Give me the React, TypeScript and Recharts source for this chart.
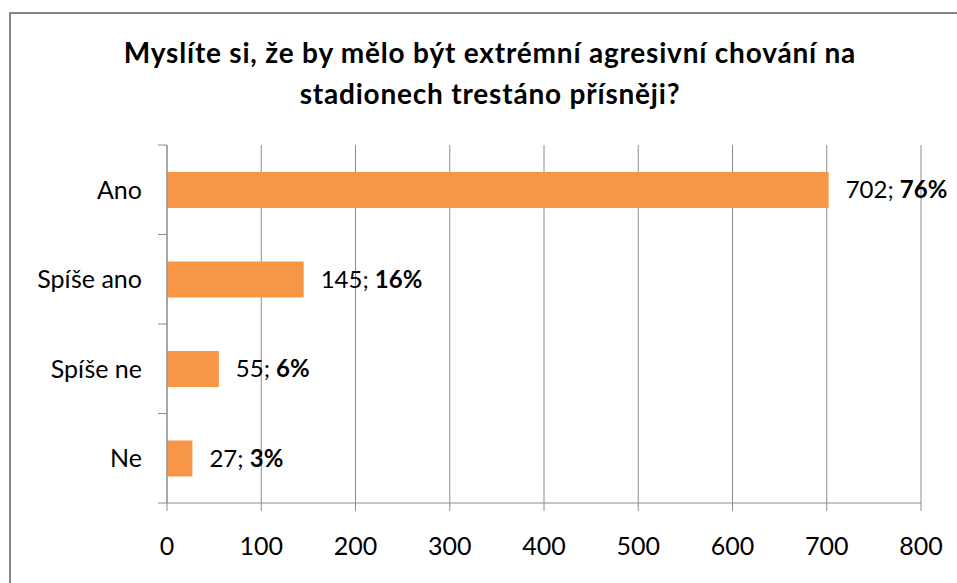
import React from 'react';
import { BarChart, Bar, XAxis, YAxis, CartesianGrid, LabelList } from 'recharts';

const categories = ['Ano', 'Spíše ano', 'Spíše ne', 'Ne'];
const counts = [702, 145, 55, 27];
const percents = [76, 16, 6, 3];
const xTicks = [0, 100, 200, 300, 400, 500, 600, 700, 800];
const titleLines = [
  'Myslíte si, že by mělo být extrémní agresivní chování na',
  'stadionech trestáno přísněji?',
];

const data = categories.map((c, i) => ({ name: c, value: counts[i], pct: percents[i] }));

const FONT = 'Lato, "Open Sans", sans-serif';
const AXIS_COLOR = '#8c8c8c';
const TEXT_COLOR = '#000000';

const YTick = (props: any) => {
  const { x, y, payload, index, visibleTicksCount } = props;
  const half = payload && typeof payload.offset === 'number' ? payload.offset : 44.75;
  const axisX = x + 16 + 9;
  return (
    <g>
      <line x1={axisX - 9} x2={axisX} y1={y - half} y2={y - half} stroke={AXIS_COLOR} strokeWidth={1} />
      {index === visibleTicksCount - 1 ? (
        <line x1={axisX - 9} x2={axisX} y1={y + half} y2={y + half} stroke={AXIS_COLOR} strokeWidth={1} />
      ) : null}
      <text x={x} y={y} dy="0.35em" textAnchor="end" fontFamily={FONT} fontSize={25} fill={TEXT_COLOR}>
        {payload.value}
      </text>
    </g>
  );
};

const ValueLabel = (props: any) => {
  const { x, y, width, height, index } = props;
  const d = data[index];
  return (
    <text x={x + width + 17} y={y + height / 2} dy="0.35em" fontFamily={FONT} fontSize={24} fill={TEXT_COLOR}>
      <tspan>{d.value}; </tspan>
      <tspan fontWeight="bold">{d.pct}%</tspan>
    </text>
  );
};

export default function App() {
  return (
    <div style={{ position: 'absolute', left: 0, top: 0, width: 957, height: 583, overflow: 'hidden', background: '#fff' }}>
      <div
        style={{
          position: 'absolute',
          left: 9,
          top: 12,
          width: 1200,
          height: 1200,
          border: '2px solid #868686',
          boxSizing: 'border-box',
        }}
      />
      <svg width={957} height={583} style={{ position: 'absolute', left: 0, top: 0 }}>
        <text x={490} y={63} textAnchor="middle" fontFamily={FONT} fontWeight="bold" fontSize={28} letterSpacing={0.8} fill={TEXT_COLOR}>
          {titleLines[0]}
        </text>
        <text x={490} y={104} textAnchor="middle" fontFamily={FONT} fontWeight="bold" fontSize={28} letterSpacing={0.8} fill={TEXT_COLOR}>
          {titleLines[1]}
        </text>
      </svg>
      <div style={{ position: 'absolute', left: 0, top: 0 }}>
        <BarChart
          layout="vertical"
          width={957}
          height={583}
          data={data}
          margin={{ top: 145, right: 36, left: 0, bottom: 0 }}
        >
          <CartesianGrid horizontal={false} vertical={true} stroke={AXIS_COLOR} strokeWidth={1} />
          <XAxis
            type="number"
            domain={[0, 800]}
            ticks={xTicks}
            interval={0}
            height={80}
            axisLine={{ stroke: AXIS_COLOR }}
            tickLine={{ stroke: AXIS_COLOR }}
            tickSize={8}
            tickMargin={26}
            tick={{ fill: TEXT_COLOR, fontFamily: FONT, fontSize: 25 }}
          />
          <YAxis
            type="category"
            dataKey="name"
            width={167}
            axisLine={{ stroke: AXIS_COLOR }}
            tickLine={false}
            tickSize={9}
            tickMargin={16}
            interval={0}
            tick={<YTick />}
          />
          <Bar dataKey="value" fill="#F79646" barSize={36} isAnimationActive={false}>
            <LabelList dataKey="value" content={<ValueLabel />} />
          </Bar>
        </BarChart>
      </div>
    </div>
  );
}
